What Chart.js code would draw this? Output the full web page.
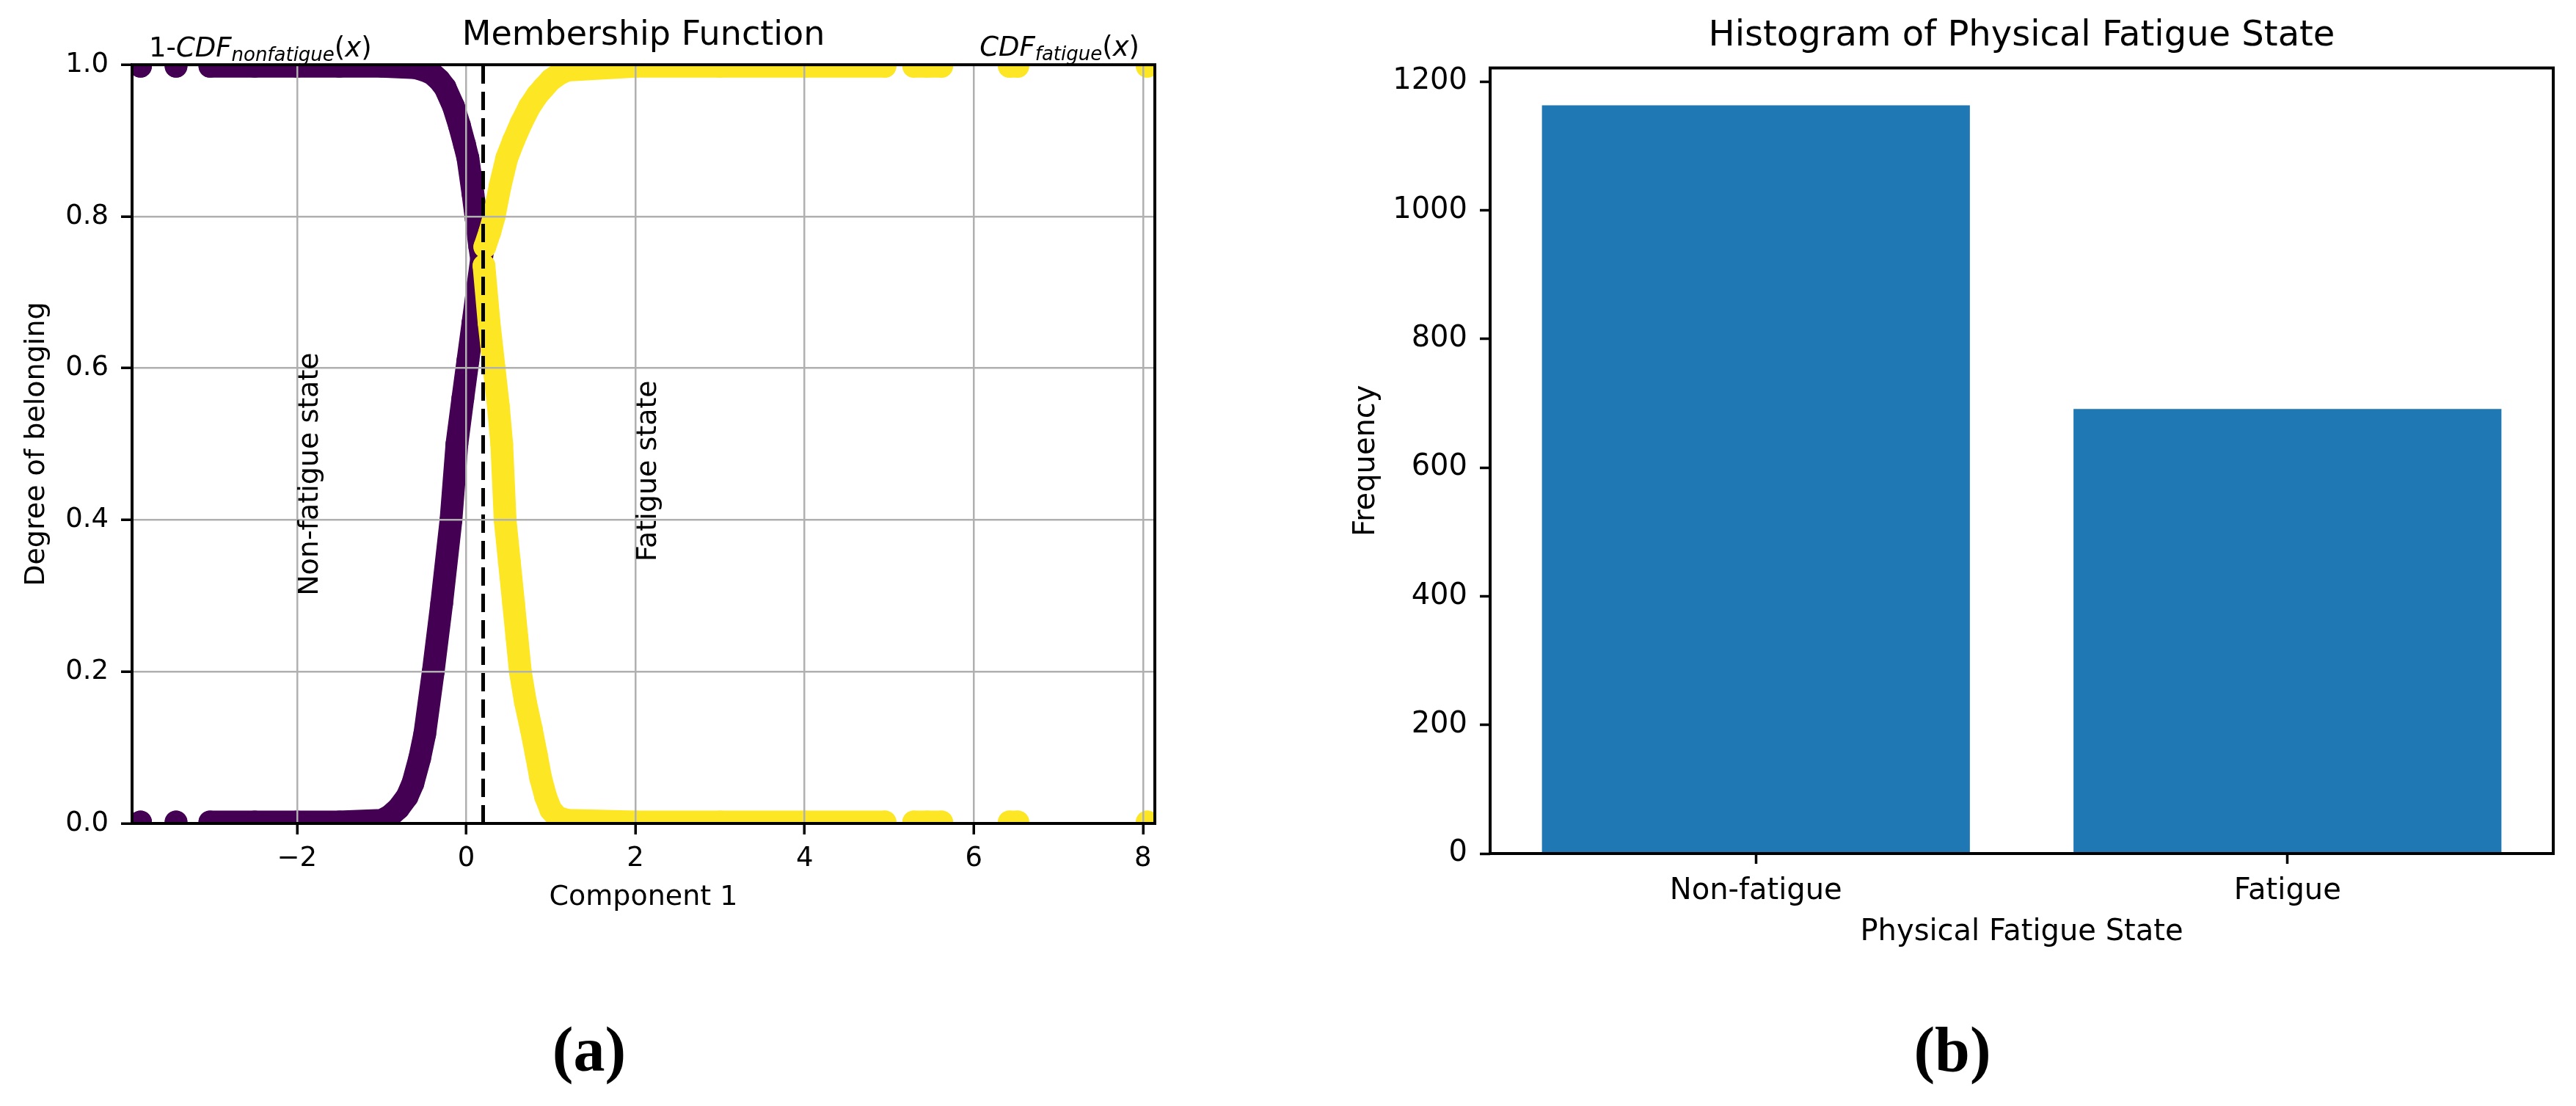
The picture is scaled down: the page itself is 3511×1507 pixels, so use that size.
<!DOCTYPE html>
<html>
<head>
<meta charset="utf-8">
<script src="https://cdn.jsdelivr.net/npm/chart.js@4.4.1/dist/chart.umd.min.js"></script>
<style>
  html, body { margin: 0; padding: 0; background: #fff; width: 3511px; height: 1507px; overflow: hidden; }
  #membership { position: absolute; left: 0; top: 0; }
  #histogram { position: absolute; left: 1780px; top: 0; }
  .cap { position: absolute; top: 1387px; width: 200px; text-align: center;
         font-family: "Liberation Serif", "Times New Roman", serif; font-weight: bold;
         font-size: 86px; line-height: 86px; color: #000; }
</style>
</head>
<body>
<canvas id="membership" width="1600" height="1260" style="width:1600px;height:1260px"></canvas>
<canvas id="histogram" width="1731" height="1310" style="width:1731px;height:1310px"></canvas>
<div class="cap" style="left:703px">(a)</div>
<div class="cap" style="left:2561px">(b)</div>
<script>
// ---------------- data: membership function (left) ----------------
// 1 - CDF_nonfatigue(x) evaluated at non-fatigue samples (null = gap between samples)
const nonFatigueUpperX = [-3.85, -3.64, -3.43, -3.23, -3.03, -2.5, -2.0, -1.5, -1.0, -0.6, -0.5, -0.4, -0.32, -0.25, -0.15, -0.08, -0.02, 0.02, 0.08, 0.12, 0.16, 0.2];
const nonFatigueUpperY = [0.998, null, 0.998, null, 0.998, 0.998, 0.998, 0.998, 0.998, 0.996, 0.993, 0.988, 0.98, 0.97, 0.945, 0.92, 0.895, 0.877, 0.83, 0.795, 0.76, 0.73];
// CDF_fatigue(x) evaluated at non-fatigue samples
const nonFatigueLowerX = [-3.85, -3.64, -3.43, -3.23, -3.03, -2.5, -2.0, -1.5, -1.0, -0.9, -0.8, -0.7, -0.63, -0.55, -0.49, -0.39, -0.29, -0.18, -0.11, -0.04, 0.02, 0.08, 0.14, 0.2];
const nonFatigueLowerY = [0.002, null, 0.002, null, 0.002, 0.002, 0.002, 0.002, 0.004, 0.01, 0.02, 0.035, 0.053, 0.086, 0.118, 0.2, 0.29, 0.4, 0.5, 0.56, 0.61, 0.66, 0.71, 0.76];
// CDF_fatigue(x) evaluated at fatigue samples
const fatigueUpperX = [0.22, 0.28, 0.33, 0.4, 0.48, 0.56, 0.65, 0.75, 0.84, 0.91, 1.0, 1.1, 1.2, 2.0, 3.0, 4.0, 4.95, 5.12, 5.29, 5.45, 5.62, 6.0, 6.42, 6.52, 7.2, 8.05];
const fatigueUpperY = [0.76, 0.78, 0.8, 0.84, 0.877, 0.9, 0.923, 0.945, 0.96, 0.969, 0.98, 0.988, 0.993, 0.998, 0.998, 0.998, 0.998, null, 0.998, 0.998, 0.998, null, 0.998, 0.998, null, 0.998];
// 1 - CDF_nonfatigue(x) evaluated at fatigue samples
const fatigueLowerX = [0.21, 0.27, 0.33, 0.38, 0.42, 0.46, 0.51, 0.56, 0.6, 0.64, 0.7, 0.77, 0.83, 0.88, 0.94, 1.0, 1.08, 1.2, 2.0, 3.0, 4.0, 4.95, 5.12, 5.29, 5.45, 5.62, 6.0, 6.42, 6.52, 7.2, 8.05];
const fatigueLowerY = [0.735, 0.66, 0.6, 0.55, 0.5, 0.4, 0.345, 0.29, 0.245, 0.2, 0.16, 0.124, 0.09, 0.06, 0.035, 0.018, 0.008, 0.004, 0.002, 0.002, 0.002, 0.002, null, 0.002, 0.002, 0.002, null, 0.002, 0.002, null, 0.002];
const thresholdX = 0.2;
const xRange = [-3.95, 8.14];
const yRange = [0, 1];
const xTickValues = [-2, 0, 2, 4, 6, 8];
const yTickValues = [0, 0.2, 0.4, 0.6, 0.8, 1.0];
const stateLabels = ['Non-fatigue state', 'Fatigue state'];
const stateLabelX = [-2, 2];
const stateLabelY = [0.3, 0.345];

// ---------------- data: histogram (right) ----------------
const stateCategories = ['Non-fatigue', 'Fatigue'];
const stateFrequency = [1163, 691];
const frequencyMax = 1221;
const frequencyTicks = [0, 200, 400, 600, 800, 1000, 1200];

// ---------------- styles ----------------
const PURPLE = '#440154';
const YELLOW = '#fde725';
const BLUE = '#1f77b4';
const GRID = '#b0b0b0';
const FONT = "'DejaVu Sans', sans-serif";
const MARKER_R = 15.5;

Chart.defaults.font.family = FONT;
Chart.defaults.color = '#000';

function pts(xs, ys) { return xs.map((x, i) => ({ x: x, y: ys[i] })); }
function fixedTicks(values) { return (scale) => { scale.ticks = values.map(v => ({ value: v })); }; }

function band(label, xs, ys, color) {
  return {
    label: label, data: pts(xs, ys), showLine: true, spanGaps: false,
    borderColor: color, backgroundColor: color, borderWidth: 2 * MARKER_R,
    borderJoinStyle: 'round', borderCapStyle: 'round',
    pointRadius: MARKER_R, pointHoverRadius: MARKER_R, pointBorderWidth: 0,
    pointBackgroundColor: color, clip: 0
  };
}

const framePlugin = {
  id: 'frame',
  afterDraw(chart) {
    const { ctx, chartArea: a } = chart;
    ctx.save();
    ctx.strokeStyle = '#000';
    ctx.lineWidth = 4;
    ctx.strokeRect(a.left, a.top, a.right - a.left, a.bottom - a.top);
    ctx.restore();
  }
};

function drawRich(ctx, parts, x, y, alignRight) {
  let total = 0;
  parts.forEach(p => {
    ctx.font = (p.it ? 'italic ' : '') + p.size + 'px ' + FONT;
    p.w = ctx.measureText(p.t).width;
    total += p.w;
  });
  let cx = alignRight ? x - total : x;
  parts.forEach(p => {
    ctx.font = (p.it ? 'italic ' : '') + p.size + 'px ' + FONT;
    ctx.fillText(p.t, cx, y + (p.dy || 0));
    cx += p.w;
  });
}

const annotationPlugin = {
  id: 'annotations',
  afterDraw(chart) {
    const { ctx, chartArea: a, scales } = chart;
    ctx.save();
    ctx.fillStyle = '#000';
    ctx.textBaseline = 'alphabetic';
    ctx.textAlign = 'left';
    const fs = 38;
    ctx.font = fs + 'px ' + FONT;
    stateLabels.forEach((t, i) => {
      const px = scales.x.getPixelForValue(stateLabelX[i]);
      const py = scales.y.getPixelForValue(stateLabelY[i]);
      ctx.save();
      ctx.translate(px + 0.74 * fs, py);
      ctx.rotate(-Math.PI / 2);
      ctx.fillText(t, 0, 0);
      ctx.restore();
    });
    const big = 37, small = 26;
    drawRich(ctx, [
      { t: '1-', size: big }, { t: 'CDF', size: big, it: true },
      { t: 'nonfatigue', size: small, it: true, dy: 6 },
      { t: '(', size: big }, { t: 'x', size: big, it: true }, { t: ')', size: big }
    ], a.left + 23, a.top - 11, false);
    drawRich(ctx, [
      { t: 'CDF', size: big, it: true },
      { t: 'fatigue', size: small, it: true, dy: 6 },
      { t: '(', size: big }, { t: 'x', size: big, it: true }, { t: ')', size: big }
    ], a.right - 21, a.top - 12, true);
    ctx.restore();
  }
};

const gridLeft = { color: GRID, lineWidth: 2.5, tickLength: 15, tickColor: '#000', tickWidth: 3.5, z: 1 };

new Chart(document.getElementById('membership'), {
  type: 'scatter',
  data: {
    datasets: [
      {
        label: 'threshold', data: [{ x: thresholdX, y: yRange[0] }, { x: thresholdX, y: yRange[1] }],
        showLine: true, borderColor: '#000', borderWidth: 5, borderDash: [25, 11],
        pointRadius: 0, pointHoverRadius: 0, clip: 0
      },
      band('CDF fatigue (fatigue)', fatigueUpperX, fatigueUpperY, YELLOW),
      band('1-CDF nonfatigue (fatigue)', fatigueLowerX, fatigueLowerY, YELLOW),
      band('1-CDF nonfatigue (non-fatigue)', nonFatigueUpperX, nonFatigueUpperY, PURPLE),
      band('CDF fatigue (non-fatigue)', nonFatigueLowerX, nonFatigueLowerY, PURPLE)
    ]
  },
  options: {
    responsive: false, devicePixelRatio: 1, animation: false, events: [],
    layout: { padding: { left: 0, top: 0, right: 26, bottom: 0 } },
    plugins: {
      legend: { display: false }, tooltip: { enabled: false },
      title: {
        display: true, text: 'Membership Function', fullSize: false, color: '#000',
        font: { size: 46, weight: 'normal', family: FONT, lineHeight: 1.2 },
        padding: { top: 21, bottom: 12 }
      }
    },
    scales: {
      x: {
        type: 'linear', position: 'bottom', min: xRange[0], max: xRange[1],
        afterBuildTicks: fixedTicks(xTickValues),
        ticks: {
          autoSkip: false, maxRotation: 0, padding: 11,
          font: { size: 37 }, color: '#000',
          callback: v => (v < 0 ? '\u2212' + Math.abs(v) : String(v))
        },
        grid: gridLeft, border: { display: false },
        title: { display: true, text: 'Component 1', color: '#000', font: { size: 38 }, padding: { top: 0, bottom: 14 } },
        afterFit(s) { s.height = 138; }
      },
      y: {
        type: 'linear', position: 'left', min: yRange[0], max: yRange[1],
        afterBuildTicks: fixedTicks(yTickValues),
        ticks: { autoSkip: false, padding: 17, font: { size: 37 }, color: '#000', callback: v => Number(v).toFixed(1) },
        grid: gridLeft, border: { display: false },
        title: { display: true, text: 'Degree of belonging', color: '#000', font: { size: 38 }, padding: { top: 27, bottom: 0 } },
        afterFit(s) { s.width = 180; }
      }
    }
  },
  plugins: [framePlugin, annotationPlugin]
});

const tickGridRight = { display: true, drawOnChartArea: false, tickLength: 14, tickColor: '#000', tickWidth: 3.5 };

new Chart(document.getElementById('histogram'), {
  type: 'bar',
  data: {
    labels: stateCategories,
    datasets: [{
      label: 'Frequency', data: stateFrequency, backgroundColor: BLUE, borderWidth: 0,
      barPercentage: 1, categoryPercentage: 0.805
    }]
  },
  options: {
    responsive: false, devicePixelRatio: 1, animation: false, events: [],
    layout: { padding: { left: 0, top: 0, right: 31, bottom: 0 } },
    plugins: {
      legend: { display: false }, tooltip: { enabled: false },
      title: {
        display: true, text: 'Histogram of Physical Fatigue State', fullSize: false, color: '#000',
        font: { size: 48, weight: 'normal', family: FONT, lineHeight: 1.2 },
        padding: { top: 21, bottom: 14 }
      }
    },
    scales: {
      x: {
        type: 'category', offset: true,
        ticks: { font: { size: 40 }, color: '#000', padding: 14, maxRotation: 0 },
        grid: Object.assign({ offset: false }, tickGridRight), border: { display: false },
        title: { display: true, text: 'Physical Fatigue State', color: '#000', font: { size: 40 }, padding: { top: 0, bottom: 15 } },
        afterFit(s) { s.height = 147; }
      },
      y: {
        type: 'linear', min: 0, max: frequencyMax,
        afterBuildTicks: fixedTicks(frequencyTicks),
        ticks: { autoSkip: false, padding: 17, font: { size: 40 }, color: '#000', callback: v => String(v) },
        grid: tickGridRight, border: { display: false },
        title: { display: true, text: 'Frequency', color: '#000', font: { size: 40 }, padding: { top: 59, bottom: 0 } },
        afterFit(s) { s.width = 251; }
      }
    }
  },
  plugins: [framePlugin]
});
</script>
</body>
</html>
